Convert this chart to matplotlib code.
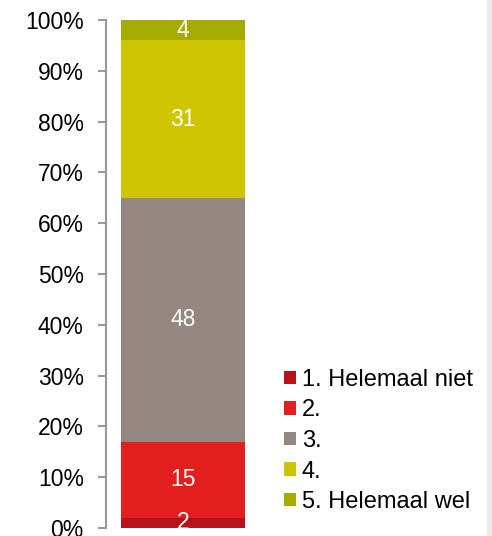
import matplotlib.pyplot as plt
from matplotlib.patches import Patch, Rectangle

categories = ["1. Helemaal niet", "2.", "3.", "4.", "5. Helemaal wel"]
values = [2, 15, 48, 31, 4]
colors = ["#B5121B", "#E31E1E", "#948781", "#CFC400", "#A4AC00"]
yticks = [0, 10, 20, 30, 40, 50, 60, 70, 80, 90, 100]

plt.rcParams['font.family'] = ['Liberation Sans', 'DejaVu Sans']
FS = 16.5

W, H = 492, 536
fig = plt.figure(figsize=(W / 100, H / 100), dpi=100)
ax = fig.add_axes([106 / W, 8 / H, 154 / W, 508 / H])

bottom = 0
for val, col in zip(values, colors):
    ax.bar(0, val, width=1.0, bottom=bottom, color=col, linewidth=0)
    ax.text(0, bottom + val / 2, str(val), ha="center", va="center",
            color="white", fontsize=FS)
    bottom += val

ax.set_xlim(-0.621, 0.621)
ax.set_ylim(0, 100)
ax.set_yticks(yticks)
ax.set_yticklabels([f"{t}%" for t in yticks], fontsize=FS)
ax.set_xticks([])
for s in ["top", "right", "bottom"]:
    ax.spines[s].set_visible(False)
ax.spines["left"].set_color("#999999")
ax.spines["left"].set_linewidth(1.5)
ax.tick_params(axis="y", length=6, width=1.5, color="#999999", pad=10)

handles = [Patch(facecolor=c, edgecolor="none") for c in colors]
fig.legend(handles, categories, loc="lower left",
           bbox_to_anchor=(284 / W, 23 / H), frameon=False, fontsize=17,
           handlelength=0.5, handleheight=0.5, handletextpad=0.25,
           labelspacing=0.36, borderpad=0, borderaxespad=0)

fig.patches.append(Rectangle((487 / W, 0), 5 / W, 1, transform=fig.transFigure,
                             facecolor="#EBEBEB", edgecolor="none"))

fig.savefig("out.png", dpi=100)
